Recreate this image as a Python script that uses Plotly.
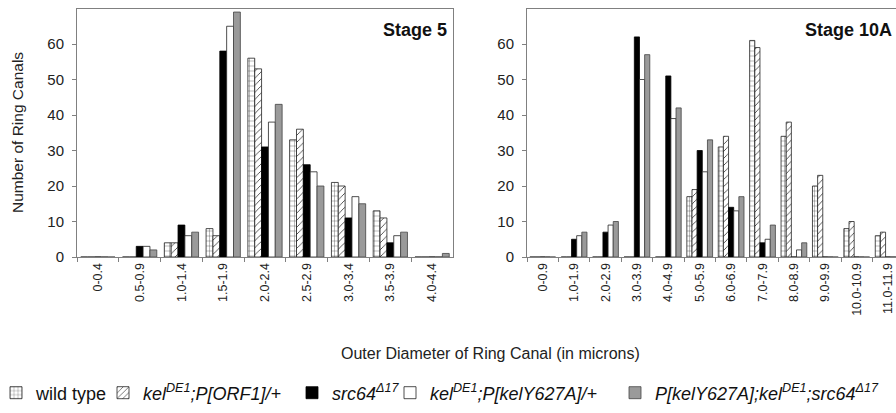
import plotly.graph_objects as go

# ---- data ----
cats_s5 = ["0-0.4", "0.5-0.9", "1.0-1.4", "1.5-1.9", "2.0-2.4", "2.5-2.9",
           "3.0-3.4", "3.5-3.9", "4.0-4.4"]
wt_s5 = [0, 0, 4, 8, 56, 33, 21, 13, 0]
orf1_s5 = [0, 0, 4, 6, 53, 36, 20, 11, 0]
src_s5 = [0, 3, 9, 58, 31, 26, 11, 4, 0]
y627_s5 = [0, 3, 6, 65, 38, 24, 17, 6, 0]
rescue_s5 = [0, 2, 7, 69, 43, 20, 15, 7, 1]

cats_s10 = ["0-0.9", "1.0-1.9", "2.0-2.9", "3.0-3.9", "4.0-4.9", "5.0-5.9",
            "6.0-6.9", "7.0-7.9", "8.0-8.9", "9.0-9.9", "10.0-10.9", "11.0-11.9"]
wt_s10 = [0, 0, 0, 0, 0, 17, 31, 61, 34, 20, 8, 6]
orf1_s10 = [0, 0, 0, 0, 0, 19, 34, 59, 38, 23, 10, 7]
src_s10 = [0, 5, 7, 62, 51, 30, 14, 4, 0, 0, 0, 0]
y627_s10 = [0, 6, 9, 50, 39, 24, 13, 5, 2, 0, 0, 0]
rescue_s10 = [0, 7, 10, 57, 42, 33, 17, 9, 4, 0, 0, 0]

y_ticks = [0, 10, 20, 30, 40, 50, 60]

names = [
    "wild type",
    "<i>kel<sup>DE1</sup>;P[ORF1]/+</i>",
    "<i>src64<sup>Δ17</sup></i>",
    "<i>kel<sup>DE1</sup>;P[kelY627A]/+</i>",
    "<i>P[kelY627A];kel<sup>DE1</sup>;src64<sup>Δ17</sup></i>",
]

FONT = "Liberation Sans, Arial, sans-serif"

styles = [
    dict(color="white", line=dict(color="#222", width=0.8),
         pattern=dict(shape="+", fgcolor="#222", bgcolor="white", size=5, solidity=0.12)),
    dict(color="white", line=dict(color="#222", width=0.8),
         pattern=dict(shape="/", fgcolor="#222", bgcolor="white", size=5, solidity=0.15)),
    dict(color="black", line=dict(color="black", width=0.8)),
    dict(color="white", line=dict(color="#222", width=0.8)),
    dict(color="#9a9a9a", line=dict(color="#444", width=0.8)),
]

legend_ids = ["legend", "legend2", "legend3", "legend4", "legend5"]

fig = go.Figure()
series5 = [wt_s5, orf1_s5, src_s5, y627_s5, rescue_s5]
series10 = [wt_s10, orf1_s10, src_s10, y627_s10, rescue_s10]
for i in range(5):
    fig.add_trace(go.Bar(x=cats_s5, y=series5[i], name=names[i], marker=styles[i],
                         xaxis="x", yaxis="y", showlegend=True, legend=legend_ids[i]))
for i in range(5):
    fig.add_trace(go.Bar(x=cats_s10, y=series10[i], name=names[i], marker=styles[i],
                         xaxis="x2", yaxis="y2", showlegend=False))

W, H = 896, 413


def px(x):
    return x / W


def py(y):
    return (H - y) / H


ydom = [py(257), py(8.5)]

axis_common = dict(showgrid=False, zeroline=False, linecolor="#808080", linewidth=1,
                   mirror=True, automargin=False)

legend_text_x = [36, 143, 332, 430, 655]
legends = {}
for lid, tx in zip(legend_ids, legend_text_x):
    legends[lid] = dict(orientation="h", x=px(tx - 40), xanchor="left", y=py(393),
                        yanchor="middle", font=dict(size=18, family=FONT, color="#111"),
                        bgcolor="rgba(0,0,0,0)", itemwidth=30, borderwidth=0)

fig.update_layout(
    width=W, height=H,
    template="none",
    paper_bgcolor="white", plot_bgcolor="white",
    margin=dict(l=0, r=0, t=0, b=0, autoexpand=False),
    font=dict(family=FONT, color="#222"),
    barmode="group", bargap=0.18, bargroupgap=0,
    xaxis=dict(domain=[px(77), px(453)], type="category", ticks="outside", ticklen=4,
               tickson="boundaries", tickcolor="#808080", tickangle=-90,
               tickfont=dict(size=12.5), range=[-0.5, 8.5], **axis_common),
    yaxis=dict(domain=ydom, range=[0, 70], tickvals=y_ticks, ticks="outside", ticklen=4,
               tickcolor="#808080", tickfont=dict(size=15), ticklabelstandoff=5,
               **axis_common),
    xaxis2=dict(domain=[px(527), 1.0], type="category", ticks="outside", ticklen=4,
                tickson="boundaries", tickcolor="#808080", tickangle=-90,
                tickfont=dict(size=12.5), range=[-0.5, 11.25], anchor="y2", **axis_common),
    yaxis2=dict(domain=ydom, range=[0, 70], tickvals=y_ticks, ticks="outside", ticklen=4,
                tickcolor="#808080", tickfont=dict(size=15), ticklabelstandoff=5,
                anchor="x2", **axis_common),
    annotations=[
        dict(text="<b>Stage 5</b>", x=px(449), y=py(30), xref="paper", yref="paper",
             xanchor="right", yanchor="middle", showarrow=False,
             font=dict(size=18, color="#111")),
        dict(text="<b>Stage 10A</b>", x=px(894), y=py(30), xref="paper", yref="paper",
             xanchor="right", yanchor="middle", showarrow=False,
             font=dict(size=18, color="#111")),
        dict(text="Number of Ring Canals", x=px(17), y=py(133), xref="paper",
             yref="paper", xanchor="center", yanchor="middle", textangle=-90,
             showarrow=False, font=dict(size=15.5)),
        dict(text="Outer Diameter of Ring Canal (in microns)", x=px(490), y=py(353),
             xref="paper", yref="paper", xanchor="center", yanchor="middle",
             showarrow=False, font=dict(size=16)),
    ],
    **legends,
)

fig.write_html(
    "out.html",
    config={"displayModeBar": False},
    post_script="document.body.style.margin='0px';document.body.style.overflow='hidden';",
)
